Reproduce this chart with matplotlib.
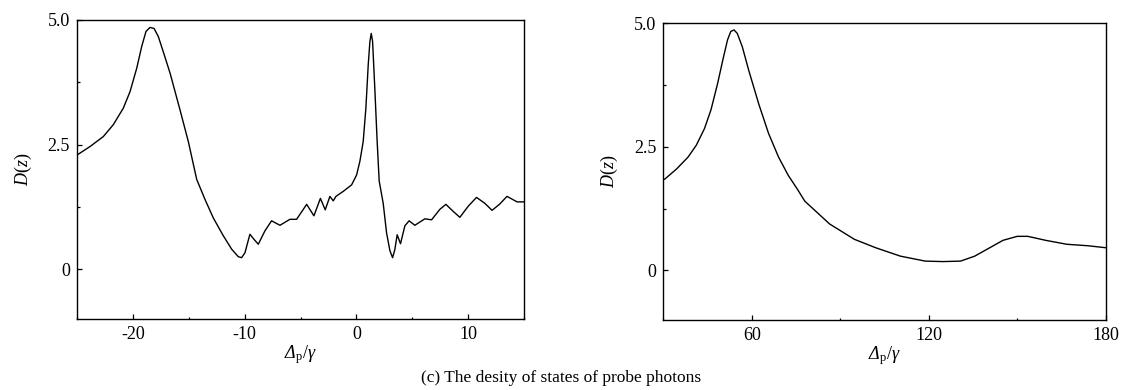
import numpy as np
import matplotlib
matplotlib.use("Agg")
import matplotlib.pyplot as plt
from matplotlib.ticker import MultipleLocator

plt.rcParams['font.family'] = ['Liberation Serif', 'DejaVu Serif']
plt.rcParams['mathtext.fontset'] = 'custom'
plt.rcParams['mathtext.rm'] = 'Liberation Serif'
plt.rcParams['mathtext.it'] = 'Liberation Serif:italic'
plt.rcParams['mathtext.sf'] = 'Liberation Serif:italic'
FS = 13

# left panel: D(z) vs detuning, -25..15
x_left = [-25.0, -23.84, -22.65, -21.75, -20.86, -20.26, -19.66, -19.21, -18.83, -18.47,
          -18.11, -17.73, -17.28, -16.67, -15.79, -15.04, -14.29, -13.55, -12.81, -11.91,
          -11.16, -10.57, -10.27, -9.97, -9.53, -9.17, -8.78, -8.18, -7.59, -6.84,
          -5.95, -5.35, -4.45, -3.80, -3.22, -2.79, -2.37, -2.07, -1.83, -1.18,
          -0.43, 0.02, 0.31, 0.61, 0.85, 1.06, 1.21, 1.33, 1.45, 1.65,
          1.86, 2.04, 2.40, 2.70, 3.00, 3.24, 3.44, 3.65, 3.95, 4.34,
          4.72, 5.23, 6.13, 6.73, 7.47, 8.01, 8.66, 9.26, 10.0, 10.75,
          11.5, 12.14, 12.8, 13.48, 14.38, 15.0]
d_left = [2.29, 2.46, 2.66, 2.90, 3.23, 3.56, 4.03, 4.47, 4.77, 4.85,
          4.83, 4.67, 4.36, 3.93, 3.20, 2.56, 1.80, 1.40, 1.03, 0.67,
          0.40, 0.25, 0.23, 0.33, 0.70, 0.60, 0.50, 0.77, 0.97, 0.88,
          1.00, 1.00, 1.30, 1.07, 1.42, 1.19, 1.46, 1.37, 1.46, 1.56,
          1.69, 1.89, 2.16, 2.56, 3.23, 4.10, 4.57, 4.73, 4.57, 3.62,
          2.56, 1.77, 1.32, 0.73, 0.37, 0.23, 0.39, 0.69, 0.51, 0.87,
          0.97, 0.88, 1.01, 0.99, 1.20, 1.30, 1.16, 1.04, 1.26, 1.44,
          1.32, 1.18, 1.30, 1.46, 1.35, 1.35]

# right panel: 30..180
x_right = [30.0, 30.6, 34.5, 38.4, 41.2, 44.0, 46.2, 48.4, 50.3, 51.8,
           52.9, 54.0, 55.1, 56.8, 59.0, 62.4, 65.7, 69.1, 72.4, 75.5,
           78.0, 86.4, 94.8, 102, 110.4, 118.8, 124.8, 130.8, 135.6, 140.4,
           145.2, 150, 153.6, 159.6, 166.8, 174, 180]
d_right = [1.83, 1.85, 2.05, 2.29, 2.53, 2.87, 3.25, 3.77, 4.28, 4.66,
           4.83, 4.86, 4.79, 4.52, 4.04, 3.36, 2.77, 2.29, 1.92, 1.64,
           1.40, 0.94, 0.63, 0.46, 0.29, 0.19, 0.18, 0.19, 0.29, 0.45,
           0.61, 0.69, 0.69, 0.61, 0.53, 0.50, 0.46]

left_ticks = [-20, -10, 0, 10]
left_ticklabels = ['-20', '-10', '0', '10']
right_ticks = [60, 120, 180]
right_ticklabels = ['60', '120', '180']
y_ticks = [0, 2.5, 5.0]
y_ticklabels = ['0', '2.5', '5.0']

fig = plt.figure(figsize=(11.23, 3.9), dpi=100)
ax1 = fig.add_axes([0.0686, 0.1821, 0.3980, 0.7667])
ax2 = fig.add_axes([0.5906, 0.1795, 0.3940, 0.7615])

ax1.plot(x_left, d_left, color='k', linewidth=1.0)
ax2.plot(x_right, d_right, color='k', linewidth=1.0)

for ax, xt, xtl, xlim, xminor in [(ax1, left_ticks, left_ticklabels, (-25, 15), 5),
                                  (ax2, right_ticks, right_ticklabels, (30, 180), 30)]:
    ax.set_xlim(*xlim)
    ax.set_ylim(-1, 5)
    ax.set_xticks(xt)
    ax.set_xticklabels(xtl, fontsize=FS)
    ax.set_yticks(y_ticks)
    ax.set_yticklabels(y_ticklabels, fontsize=FS)
    ax.xaxis.set_minor_locator(MultipleLocator(xminor))
    ax.yaxis.set_minor_locator(MultipleLocator(1.25))
    ax.tick_params(which='both', direction='in', top=False, right=False)
    ax.tick_params(which='major', length=3.4, width=0.9, pad=5)
    ax.tick_params(which='minor', length=1.8, width=0.9)
    for s in ax.spines.values():
        s.set_linewidth(1.0)
    ax.set_xlabel(r'$\mathsf{\Delta}_{\mathrm{p}}/\gamma$', fontsize=FS, labelpad=0)
    ax.set_ylabel(r'$D(z)$', fontsize=FS, labelpad=10)

fig.text(0.5, 0.03, '(c) The desity of states of probe photons', ha='center',
         va='center', fontsize=12.5)

fig.savefig('out.png', dpi=100)
